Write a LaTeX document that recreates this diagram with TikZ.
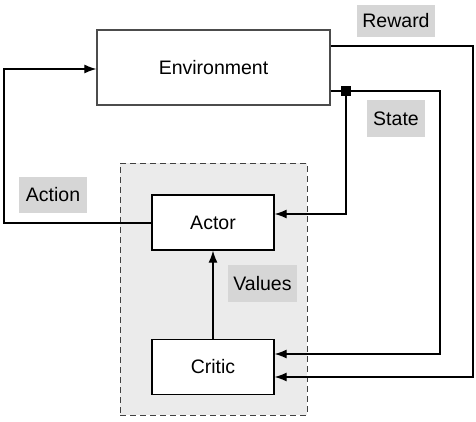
\documentclass[tikz,border=0pt]{standalone}
\usepackage{fontspec}
\setmainfont{Liberation Sans}
\usetikzlibrary{arrows.meta}
\definecolor{lbl}{HTML}{D6D6D6}
\definecolor{grp}{HTML}{EBEBEB}
\tikzset{
  blk/.style={draw=black, line width=1.3pt, fill=white, minimum width=122pt, minimum height=55pt, inner sep=0pt, font=\fontsize{19.5}{22}\selectfont},
  lab/.style={fill=lbl, inner sep=0pt, font=\fontsize{19.5}{22}\selectfont},
  con/.style={line width=1.2pt, draw=black},
  arr/.style={con, -{Latex[length=12pt,width=9pt]}},
}
\begin{document}
\begin{tikzpicture}[x=1pt,y=-1pt]
\useasboundingbox (0,0) rectangle (476,422);
\node[draw=black!75, dash pattern=on 6pt off 4pt, line width=0.9pt, fill=grp, minimum width=187pt, minimum height=252pt, inner sep=0pt] (grp) at (213.5,289) {};
\node[blk, draw=black!70, minimum width=233pt, minimum height=75pt] (env) at (213.5,67.5) {Environment};
\node[blk] (actor) at (213,222.5) {Actor};
\node[blk] (critic) at (213,367) {Critic};
\node[lab, minimum width=68pt, minimum height=36pt] (action) at (53,195) {Action};
\node[lab, minimum width=78pt, minimum height=32pt] (reward) at (396,21) {Reward};
\node[lab, minimum width=58pt, minimum height=37pt] (state) at (396,118.5) {State};
\node[lab, minimum width=69pt, minimum height=37pt] (values) at (262.5,283.5) {Values};
\node[fill=black, minimum size=10pt, inner sep=0pt] (junc) at (346,91) {};
\coordinate (a1) at (4,223);
\coordinate (a2) at (4,69);
\coordinate (r1) at (473,46);
\coordinate (r2) at (473,377);
\coordinate (s1) at (440,91);
\coordinate (s2) at (440,354);
\coordinate (j1) at (346,214);
\draw[arr] (actor.west |- a1) -- (a1) -- (a2) -- (env.west |- a2);
\draw[arr] (env.east |- r1) -- (r1) -- (r2) -- (critic.east |- r2);
\draw[con] (env.east |- s1) -- (junc);
\draw[arr] (junc) -- (s1) -- (s2) -- (critic.east |- s2);
\draw[arr] (junc) -- (j1) -- (actor.east |- j1);
\draw[arr] (critic.north) -- (actor.south);
\end{tikzpicture}
\end{document}
